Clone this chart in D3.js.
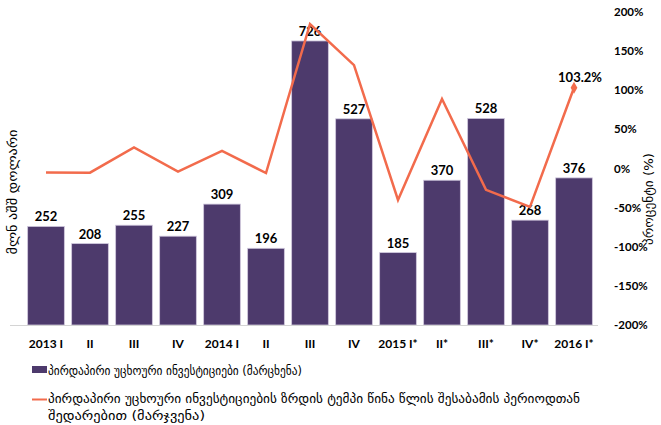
<!DOCTYPE html>
<html><head><meta charset="utf-8">
<script src="https://cdn.jsdelivr.net/npm/d3@7"></script>
<style>body{margin:0;background:#fff}svg{display:block}</style>
</head><body>
<svg id="c" width="661" height="425"></svg>
<script>
const categories = ["2013 I","II","III","IV","2014 I","II ","III ","IV ","2015 I*","II*","III*","IV*","2016 I*"];
const fdiValues = [252,208,255,227,309,196,726,527,185,370,528,268,376];
const growthValues = [-5,-5.3,27,-4,22.6,-5.8,184.7,132,-40.1,88.8,-27.3,-49.1,103.2];
const rightTicks = [-200,-150,-100,-50,0,50,100,150,200];
const legendLabels = ["პირდაპირი უცხოური ინვესტიციები (მარცხენა)",
  "პირდაპირი უცხოური ინვესტიციების ზრდის ტემპი წინა წლის შესაბამის პერიოდთან",
  "შედარებით (მარჯვენა)"];
const leftTitle = "მლნ აშშ დოლარი";
const rightTitle = "პროცენტი (%)";

const svg = d3.select("#c");
const barColor = "#4d3a6c", lineColor = "#f26b4c";
const numFont = "Lato, 'Open Sans', sans-serif";
const geoFont = "'DejaVu Sans', sans-serif";

const x = d3.scaleBand().domain(categories).range([24, 596]).paddingInner(0.166).paddingOuter(0.083);
const yL = d3.scaleLinear().domain([0, 800]).range([325, 12]);
const yR = d3.scaleLinear().domain([-200, 200]).range([325, 12]);

// bars
svg.append("g").selectAll("rect").data(fdiValues).join("rect")
  .attr("x", (d,i) => x(categories[i]))
  .attr("y", d => yL(d))
  .attr("width", x.bandwidth())
  .attr("height", d => yL(0) - yL(d))
  .attr("fill", barColor)
  .attr("stroke", "#cfc7dd").attr("stroke-width", 0.8);

// baseline
svg.append("line").attr("x1", 10).attr("x2", 598).attr("y1", 325.5).attr("y2", 325.5)
  .attr("stroke", "#d4d4d4").attr("stroke-width", 1);

// bar labels
svg.append("g").selectAll("text").data(fdiValues).join("text")
  .attr("x", (d,i) => x(categories[i]) + x.bandwidth()/2)
  .attr("y", d => yL(d) - 5)
  .attr("text-anchor", "middle")
  .attr("font-family", numFont).attr("font-weight", "bold").attr("font-size", 13)
  .attr("fill", "#000").text(d => d);

// line
const line = d3.line().x((d,i) => x(categories[i]) + x.bandwidth()/2).y(d => yR(d));
svg.append("path").datum(growthValues).attr("d", line)
  .attr("fill", "none").attr("stroke", lineColor).attr("stroke-width", 2.5).attr("stroke-linejoin", "miter");

// last point marker + label
const li = growthValues.length - 1;
const lx = x(categories[li]) + x.bandwidth()/2, ly = yR(growthValues[li]);
svg.append("path").attr("d", d3.symbol(d3.symbolDiamond, 40)())
  .attr("transform", `translate(${lx},${ly})`).attr("fill", lineColor);
svg.append("text").attr("x", lx + 6).attr("y", ly - 6).attr("text-anchor", "middle")
  .attr("font-family", numFont).attr("font-weight", "bold").attr("font-size", 13)
  .text(growthValues[li].toFixed(1) + "%");

// x labels
svg.append("g").selectAll("text").data(categories).join("text")
  .attr("x", d => x(d) + x.bandwidth()/2)
  .attr("y", 344).attr("dy", "0.35em")
  .attr("text-anchor", "middle")
  .attr("font-family", numFont).attr("font-weight", "bold").attr("font-size", 12)
  .text(d => d.trim());

// right axis labels
svg.append("g").selectAll("text").data(rightTicks).join("text")
  .attr("x", 614).attr("y", d => yR(d)).attr("dy", "0.35em")
  .attr("font-family", numFont).attr("font-weight", "bold").attr("font-size", 11.5)
  .text(d => d + "%");

// axis titles
svg.append("text").attr("transform", "translate(17,192) rotate(-90)")
  .attr("text-anchor", "middle").attr("font-family", geoFont).attr("font-size", 13)
  .attr("textLength", 125).attr("lengthAdjust", "spacingAndGlyphs")
  .text(leftTitle);
svg.append("text").attr("transform", "translate(653,199) rotate(-90)")
  .attr("text-anchor", "middle").attr("font-family", geoFont).attr("font-size", 13)
  .attr("textLength", 92).attr("lengthAdjust", "spacingAndGlyphs")
  .text(rightTitle);

// legend
svg.append("rect").attr("x", 32).attr("y", 366).attr("width", 15).attr("height", 7).attr("fill", barColor);
svg.append("text").attr("x", 48).attr("y", 370).attr("dy", "0.35em")
  .attr("font-family", geoFont).attr("font-size", 13)
  .attr("textLength", 254).attr("lengthAdjust", "spacingAndGlyphs").text(legendLabels[0]);
svg.append("line").attr("x1", 32).attr("x2", 47).attr("y1", 399.5).attr("y2", 399.5)
  .attr("stroke", lineColor).attr("stroke-width", 2);
svg.append("text").attr("x", 48).attr("y", 398).attr("dy", "0.35em")
  .attr("font-family", geoFont).attr("font-size", 13)
  .attr("textLength", 532).attr("lengthAdjust", "spacingAndGlyphs").text(legendLabels[1]);
svg.append("text").attr("x", 48).attr("y", 415).attr("dy", "0.35em")
  .attr("font-family", geoFont).attr("font-size", 13)
  .attr("textLength", 157).attr("lengthAdjust", "spacingAndGlyphs").text(legendLabels[2]);
</script>
</body></html>
